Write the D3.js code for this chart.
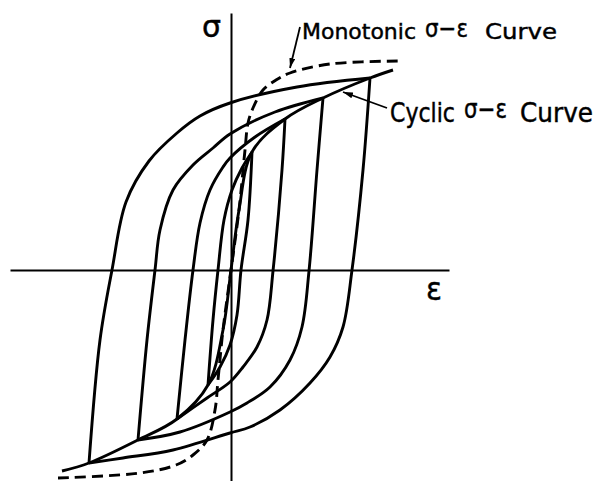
<!DOCTYPE html>
<html>
<head>
<meta charset="utf-8">
<script src="https://cdn.jsdelivr.net/npm/d3@7"></script>
<style>
    body { margin: 0; background: #fff; }
    svg { display: block; }
    .axis path { stroke: #000; stroke-width: 2; }
    .branch { fill: none; stroke: #000; stroke-width: 2.9; stroke-linejoin: round; }
    .mono { fill: none; stroke: #000; stroke-width: 2.9; stroke-dasharray: 11 6; }
    .leader { stroke: #000; stroke-width: 1.8; }
    text { font-family: "DejaVu Sans", sans-serif; fill: #000; stroke: #000; stroke-width: 0.45; }
</style>
</head>
<body>
<script>
// strain / stress pairs (normalised units)
const loop1Up = [[-1.42, -1.93], [-1.31, -0.70], [-1.19, 0], [-1.05, 0.68], [-0.82, 1.09], [-0.54, 1.37], [-0.31, 1.54], [-0.01, 1.67], [0.66, 1.83], [1.39, 1.92]];
const loop1Down = [[1.39, 1.92], [1.32, 1.00], [1.21, 0], [1.12, -0.57], [0.99, -0.87], [0.79, -1.13], [0.49, -1.40], [0.19, -1.57], [-0.01, -1.63], [-0.58, -1.80], [-1.08, -1.88], [-1.42, -1.93]];
const loop2Up = [[-0.93, -1.70], [-0.84, -0.70], [-0.76, 0], [-0.71, 0.40], [-0.58, 0.80], [-0.38, 1.05], [-0.18, 1.22], [-0.01, 1.36], [0.44, 1.58], [0.92, 1.72]];
const loop2Down = [[0.92, 1.72], [0.86, 1.00], [0.78, -0.01], [0.71, -0.57], [0.59, -0.90], [0.39, -1.17], [0.16, -1.33], [-0.01, -1.42], [-0.51, -1.62], [-0.93, -1.70]];
const loop3Up = [[-0.54, -1.49], [-0.46, -0.70], [-0.38, 0], [-0.31, 0.47], [-0.21, 0.80], [-0.08, 1.03], [-0.01, 1.12], [0.24, 1.33], [0.54, 1.51]];
const loop3Down = [[0.54, 1.51], [0.51, 1.00], [0.42, -0.01], [0.36, -0.50], [0.26, -0.77], [0.12, -0.97], [-0.01, -1.12], [-0.24, -1.28], [-0.54, -1.49]];
const loop4Up = [[-0.23, -1.15], [-0.18, -0.50], [-0.13, 0], [-0.07, 0.50], [0.01, 0.80], [0.11, 1.02], [0.21, 1.18]];
const loop4Down = [[0.21, 1.18], [0.17, 0.50], [0.10, 0], [0.06, -0.45], [-0.01, -0.75], [-0.11, -0.97], [-0.23, -1.15]];
const cyclic = [[-1.69, -2.01], [-1.42, -1.93], [-0.93, -1.70], [-0.54, -1.49], [-0.23, -1.15], [-0.08, -0.60], [0, 0], [0.08, 0.60], [0.21, 1.18], [0.54, 1.51], [0.92, 1.72], [1.39, 1.92], [1.62, 2.00]];
const monotonic = [[-1.73, -2.08], [-0.91, -2.03], [-0.55, -1.95], [-0.38, -1.85], [-0.24, -1.70], [-0.16, -1.40], [-0.13, -1.10], [-0.08, -0.60], [0, 0], [0.08, 0.60], [0.14, 1.20], [0.17, 1.47], [0.22, 1.62], [0.32, 1.80], [0.45, 1.90], [0.59, 1.97], [0.99, 2.06], [1.71, 2.09]];

// label pieces: text, left x, baseline y, font size, fitted width
const labels = [
    ['Monotonic', 302, 39, 22, 114],
    ['σ−ε', 425, 37, 25, 43],
    ['Curve', 485, 39, 22, 72],
    ['Cyclic', 390, 122, 26, 65],
    ['σ−ε', 464, 118, 26, 43],
    ['Curve', 520, 122, 26, 73],
    ['σ', 202, 37, 30, 19],
    ['ε', 426, 300, 32, 16]
];

const width = 597, height = 481;
const x = d3.scaleLinear().domain([-2.21, 2.18]).range([10, 449]);
const y = d3.scaleLinear().domain([-2.11, 2.57]).range([481, 13]);

const svg = d3.select('body').append('svg')
    .attr('width', width)
    .attr('height', height);

svg.append('defs').append('marker')
    .attr('id', 'head')
    .attr('viewBox', '0 0 10 6')
    .attr('refX', 10).attr('refY', 3)
    .attr('markerWidth', 10).attr('markerHeight', 6)
    .attr('markerUnits', 'userSpaceOnUse')
    .attr('orient', 'auto')
    .append('path').attr('d', 'M0,0L10,3L0,6Z').attr('fill', '#000');

// axes, no ticks
svg.append('g').attr('class', 'axis')
    .attr('transform', `translate(0,${y(0)})`)
    .call(d3.axisBottom(x).ticks(0).tickSizeOuter(0));
svg.append('g').attr('class', 'axis')
    .attr('transform', `translate(${x(0)},0)`)
    .call(d3.axisLeft(y).ticks(0).tickSizeOuter(0));

const line = d3.line()
    .x(d => x(d[0]))
    .y(d => y(d[1]))
    .curve(d3.curveCatmullRom.alpha(0.5));

// hysteresis loops
const branches = [loop1Up, loop1Down, loop2Up, loop2Down, loop3Up, loop3Down, loop4Up, loop4Down, cyclic];
svg.selectAll('.branch')
    .data(branches)
    .enter().append('path')
    .attr('class', 'branch')
    .attr('d', line);

svg.append('path')
    .attr('class', 'mono')
    .attr('d', line(monotonic));

// leaders
svg.append('line').attr('class', 'leader')
    .attr('x1', x(0.69)).attr('y1', y(2.43))
    .attr('x2', x(0.59)).attr('y2', y(2.02))
    .attr('marker-end', 'url(#head)');
svg.append('line').attr('class', 'leader')
    .attr('x1', x(1.56)).attr('y1', y(1.62))
    .attr('x2', x(1.12)).attr('y2', y(1.78))
    .attr('marker-end', 'url(#head)');

// labels
svg.selectAll('.label')
    .data(labels)
    .enter().append('text')
    .attr('class', 'label')
    .attr('x', d => d[1])
    .attr('y', d => d[2])
    .attr('font-size', d => d[3])
    .attr('textLength', d => d[4])
    .attr('lengthAdjust', 'spacingAndGlyphs')
    .text(d => d[0]);
</script>
</body>
</html>
